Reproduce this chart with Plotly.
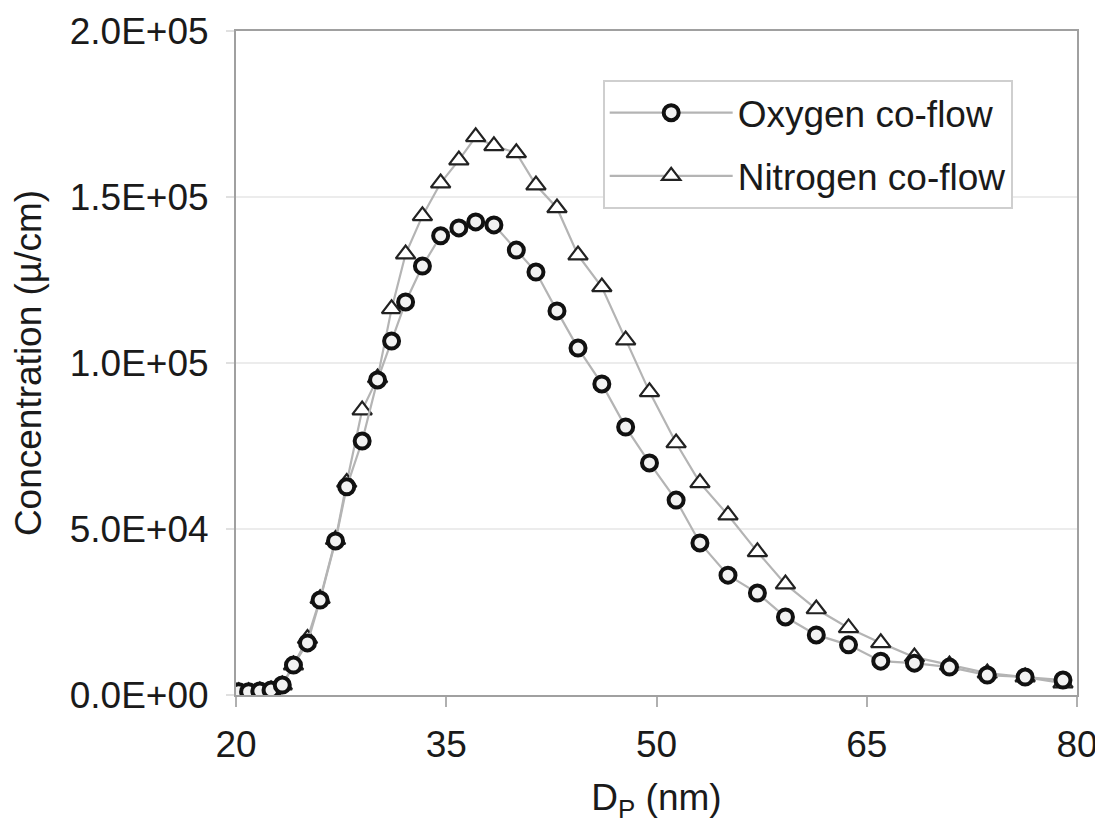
import plotly.graph_objects as go

# Particle diameter (nm)
dp = [20.2, 20.9, 21.7, 22.5, 23.3, 24.1, 25.1, 26.0, 27.1, 27.9, 29.0, 30.1, 31.1,
      32.1, 33.3, 34.6, 35.9, 37.1, 38.4, 40.0, 41.4, 42.9, 44.4, 46.1, 47.8, 49.5,
      51.4, 53.1, 55.1, 57.2, 59.2, 61.4, 63.7, 66.0, 68.4, 70.9, 73.6, 76.3, 79.0]

oxygen = [1.0e3, 1.0e3, 1.2e3, 1.5e3, 3.0e3, 9.0e3, 15.7e3, 28.6e3, 46.4e3, 62.7e3,
          76.5e3, 94.9e3, 106.6e3, 118.4e3, 129.2e3, 138.3e3, 140.7e3, 142.5e3, 141.6e3,
          134.0e3, 127.4e3, 115.7e3, 104.5e3, 93.7e3, 80.7e3, 69.9e3, 58.7e3, 45.8e3,
          36.1e3, 30.7e3, 23.5e3, 18.1e3, 15.1e3, 10.2e3, 9.6e3, 8.4e3, 6.0e3, 5.4e3, 4.5e3]

nitrogen = [1.0e3, 1.0e3, 1.2e3, 1.5e3, 3.0e3, 9.0e3, 17.0e3, 29.0e3, 46.8e3, 64.0e3,
            85.8e3, 95.5e3, 116.3e3, 132.8e3, 144.3e3, 154.2e3, 161.1e3, 168.1e3, 165.4e3,
            163.3e3, 153.6e3, 146.7e3, 132.5e3, 122.9e3, 106.9e3, 91.3e3, 75.9e3, 63.9e3,
            54.2e3, 43.1e3, 33.4e3, 25.9e3, 20.2e3, 15.7e3, 11.4e3, 9.0e3, 6.6e3, 5.4e3, 3.6e3]

x_ticks = [20, 35, 50, 65, 80]
y_ticks = [0, 5e4, 1e5, 1.5e5, 2e5]
y_tick_labels = ["0.0E+00", "5.0E+04", "1.0E+05", "1.5E+05", "2.0E+05"]

FONT = "Liberation Sans, Arial, sans-serif"

fig = go.Figure()
fig.add_trace(go.Scatter(
    x=dp, y=nitrogen, mode="lines+markers", name="Nitrogen co-flow",
    legendgroup="n", legendrank=2,
    line=dict(color="#b4b4b4", width=2.2),
    marker=dict(symbol="triangle-up", size=17, color="white",
                line=dict(color="#222222", width=2.2)),
))
fig.add_trace(go.Scatter(
    x=dp, y=oxygen, mode="lines+markers", name="Oxygen co-flow",
    legendgroup="o", legendrank=1,
    line=dict(color="#b4b4b4", width=2.2),
    marker=dict(symbol="circle", size=15, color="#f2f2f2",
                line=dict(color="#111111", width=4)),
))

# the page body adds an 8px margin on the left and top
fig.update_layout(
    width=1095, height=815,
    margin=dict(l=228, r=26, t=23, b=128, autoexpand=False),
    paper_bgcolor="white", plot_bgcolor="white",
    font=dict(family=FONT, size=37, color="#1a1a1a"),
    showlegend=True,
    legend=dict(
        x=0.436, y=0.926, xanchor="left", yanchor="top",
        bordercolor="#cfcfcf", borderwidth=2, bgcolor="white",
        font=dict(family=FONT, size=37, color="#1a1a1a"),
        itemwidth=123, tracegroupgap=12,
    ),
    xaxis=dict(
        range=[20, 80], tickvals=x_ticks, ticktext=[str(v) for v in x_ticks],
        showgrid=False, zeroline=False, automargin=False,
        showline=True, linecolor="#a0a0a0", linewidth=2, mirror=True,
        ticks="outside", ticklen=10, tickwidth=2, tickcolor="#b0b0b0",
        ticklabelstandoff=6,
        tickfont=dict(size=37),
        title=dict(text="D<sub>P</sub> (nm)", font=dict(size=37), standoff=24),
    ),
    yaxis=dict(
        range=[0, 2e5], tickvals=y_ticks, ticktext=y_tick_labels,
        showgrid=True, gridcolor="#ececec", gridwidth=2, zeroline=False,
        automargin=False,
        showline=True, linecolor="#a0a0a0", linewidth=2, mirror=True,
        ticks="outside", ticklen=8, tickwidth=2, tickcolor="#e0e0e0",
        ticklabelstandoff=10,
        tickfont=dict(size=37),
        title=dict(text="Concentration (µ/cm)", font=dict(size=37), standoff=20),
    ),
)

fig.write_html("out.html")
